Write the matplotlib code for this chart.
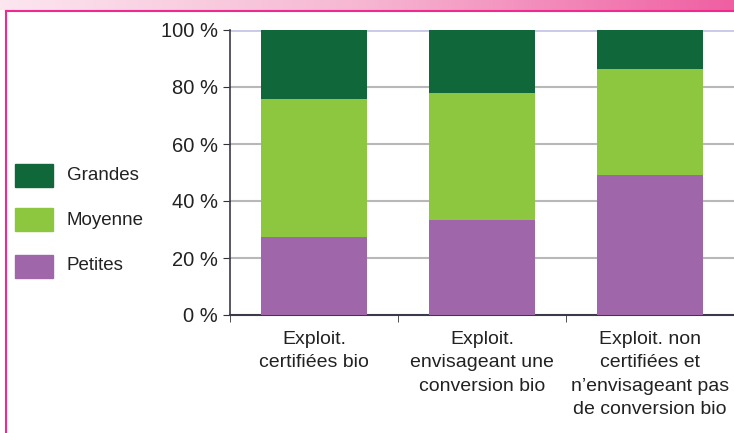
import numpy as np
import matplotlib
matplotlib.use("Agg")
import matplotlib.pyplot as plt
from matplotlib.lines import Line2D
from matplotlib.colors import LinearSegmentedColormap

categories = ["Exploit.\ncertifiées bio",
              "Exploit.\nenvisageant une\nconversion bio",
              "Exploit. non\ncertifiées et\nn\u2019envisageant pas\nde conversion bio"]
petites = [27.5, 33.3, 49.1]
moyenne = [48.3, 44.7, 37.2]
grandes = [24.2, 22.0, 13.7]
yticks = [0, 20, 40, 60, 80, 100]
ytick_labels = ["0 %", "20 %", "40 %", "60 %", "80 %", "100 %"]

plt.rcParams['font.family'] = ['Liberation Sans', 'DejaVu Sans']

W, H = 734, 433
fig = plt.figure(figsize=(W/100, H/100), dpi=100)

# top gradient band
band = fig.add_axes([0, 1 - 10/H, 1, 10/H])
cmap = LinearSegmentedColormap.from_list("pk", ["#fce6ef", "#f6b6d2", "#ef5fa2"])
band.imshow(np.linspace(0, 1, 256)[None, :], aspect='auto', cmap=cmap, extent=[0, 1, 0, 1])
band.set_axis_off()

# pink frame lines
fig.add_artist(Line2D([6/W, 1], [1 - 10.5/H, 1 - 10.5/H], color="#ee2a8e", lw=1.5, transform=fig.transFigure))
fig.add_artist(Line2D([6/W, 6/W], [0, 1 - 10.5/H], color="#ee2a8e", lw=1.5, transform=fig.transFigure))

ax = fig.add_axes([230/W, (H - 315)/H, (W - 230)/W, 285/H])
x = np.arange(len(categories))
c_p, c_m, c_g = "#a066aa", "#8dc63f", "#10673a"
bw = 0.63
ax.bar(x, petites, bw, color=c_p, zorder=3, label="Petites")
ax.bar(x, moyenne, bw, bottom=petites, color=c_m, zorder=3, label="Moyenne")
ax.bar(x, grandes, bw, bottom=np.add(petites, moyenne), color=c_g, zorder=3, label="Grandes")

ax.set_xlim(-0.5, 2.5)
ax.set_ylim(0, 100)
ax.set_yticks(yticks)
ax.set_yticklabels(ytick_labels, fontsize=14.5, color="#222222")
for yv in yticks[1:-1]:
    ax.axhline(yv, color="#b8b8b8", lw=1.5, zorder=1)
ax.axhline(100, color="#c8c8e8", lw=2, zorder=1)

ax.set_xticks(x)
ax.set_xticklabels(categories, fontsize=14, color="#222222", linespacing=1.5)
ax.tick_params(axis='x', length=0, pad=11.5)
ax.set_xticks([-0.5, 0.5, 1.5], minor=True)
ax.tick_params(axis='x', which='minor', length=5, direction='out', color="#333333")
ax.tick_params(axis='y', length=5, direction='out', color="#333333", pad=4)

for s in ["top", "right"]:
    ax.spines[s].set_visible(False)
ax.spines["left"].set_color("#3a3a4a")
ax.spines["bottom"].set_color("#3a3a4a")
ax.spines["left"].set_linewidth(1.2)
ax.spines["bottom"].set_linewidth(1.5)

# legend drawn manually in figure coords
leg = [("Grandes", c_g, 175), ("Moyenne", c_m, 220), ("Petites", c_p, 266)]
for name, col, yc in leg:
    fig.patches.append(plt.Rectangle((15/W, 1 - (yc + 11.5)/H), 38/W, 23/H,
                                     color=col, transform=fig.transFigure))
    fig.text(67/W, 1 - yc/H, name, fontsize=13.5, color="#222222", va='center', ha='left')

fig.savefig("out.png", dpi=100)
